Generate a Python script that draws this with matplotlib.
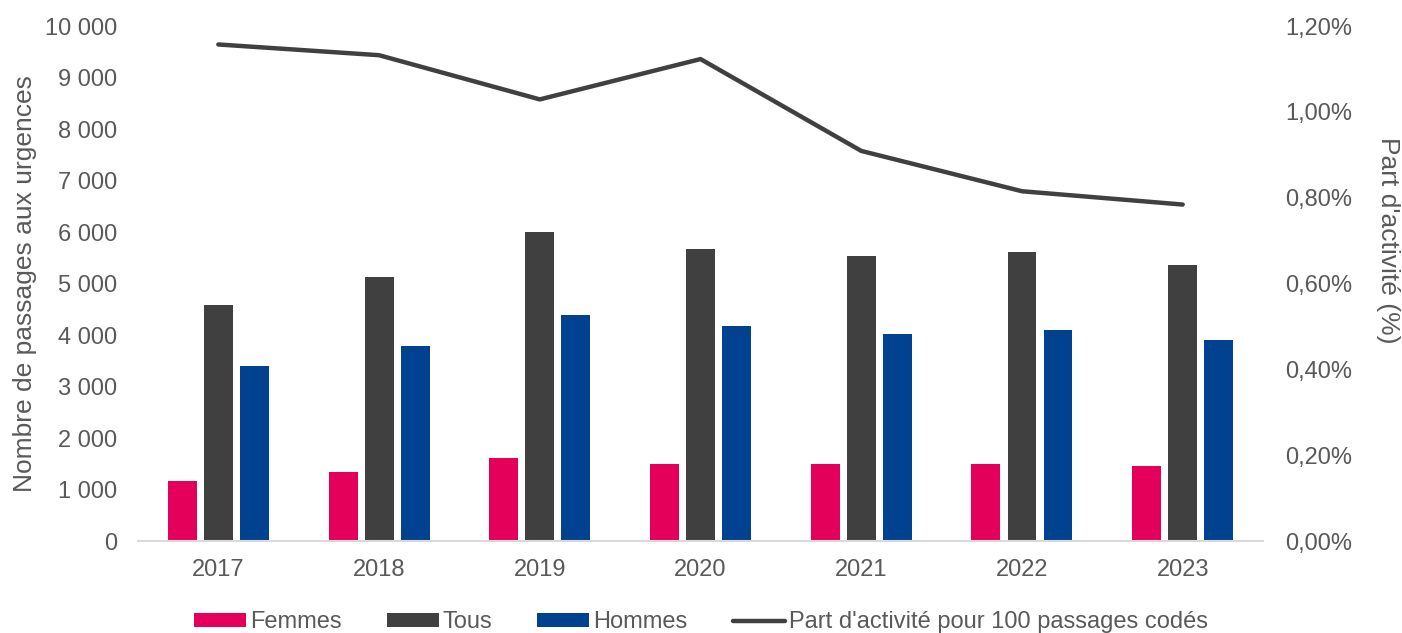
import numpy as np
import matplotlib.pyplot as plt
from matplotlib.ticker import FuncFormatter

plt.rcParams['font.family'] = ['Liberation Sans', 'DejaVu Sans']

years = ['2017', '2018', '2019', '2020', '2021', '2022', '2023']
femmes = [1165, 1345, 1610, 1490, 1500, 1500, 1456]
tous = [4580, 5125, 6010, 5670, 5530, 5610, 5360]
hommes = [3400, 3780, 4390, 4180, 4020, 4090, 3900]
part = [1.157, 1.132, 1.029, 1.123, 0.909, 0.815, 0.784]

grey = '#595959'

fig = plt.figure(figsize=(14.02, 6.33), dpi=100)
ax = fig.add_axes([0.0984, 0.1453, 0.8025, 0.8136])
ax2 = ax.twinx()

x = np.arange(len(years))
w = 0.18
off = 0.224
b1 = ax.bar(x - off, femmes, w, color='#E4005A', label='Femmes')
b2 = ax.bar(x, tous, w, color='#404040', label='Tous')
b3 = ax.bar(x + off, hommes, w, color='#00428F', label='Hommes')
l1, = ax2.plot(x, part, color='#404040', lw=3.2, solid_capstyle='round',
               label="Part d'activité pour 100 passages codés")

ax.set_xlim(-0.5, len(years) - 0.5)
ax.set_ylim(0, 10000)
ax.set_yticks(range(0, 10001, 1000))
ax.yaxis.set_major_formatter(FuncFormatter(lambda v, p: f'{int(v):,}'.replace(',', ' ')))
ax2.set_ylim(0, 1.2)
ax2.set_yticks(np.arange(0, 1.21, 0.2))
ax2.yaxis.set_major_formatter(FuncFormatter(lambda v, p: f'{v:.2f}%'.replace('.', ',')))

ax.set_xticks(x)
ax.set_xticklabels(years)

for a in (ax, ax2):
    for s in a.spines.values():
        s.set_visible(False)
    a.tick_params(length=0, labelsize=17, colors=grey)
ax.spines['bottom'].set_visible(True)
ax.spines['bottom'].set_color('#D9D9D9')
ax.spines['bottom'].set_linewidth(1.5)
ax.tick_params(axis='x', pad=13)
ax.tick_params(axis='y', pad=15)
ax2.tick_params(axis='y', pad=16)

ax.set_ylabel('Nombre de passages aux urgences', fontsize=19, color=grey, labelpad=6)
ax2.set_ylabel("Part d'activité (%)", fontsize=19, color=grey, rotation=270)
ax2.yaxis.set_label_coords(1.122, 0.584)

fig.legend(handles=[b1, b2, b3, l1], loc='lower center', bbox_to_anchor=(0.5, -0.034),
           ncol=4, frameon=False, fontsize=17, labelcolor=grey, handlelength=2.2,
           handleheight=0.5, handletextpad=0.17, columnspacing=1.9)

fig.savefig('out.png', dpi=100)
